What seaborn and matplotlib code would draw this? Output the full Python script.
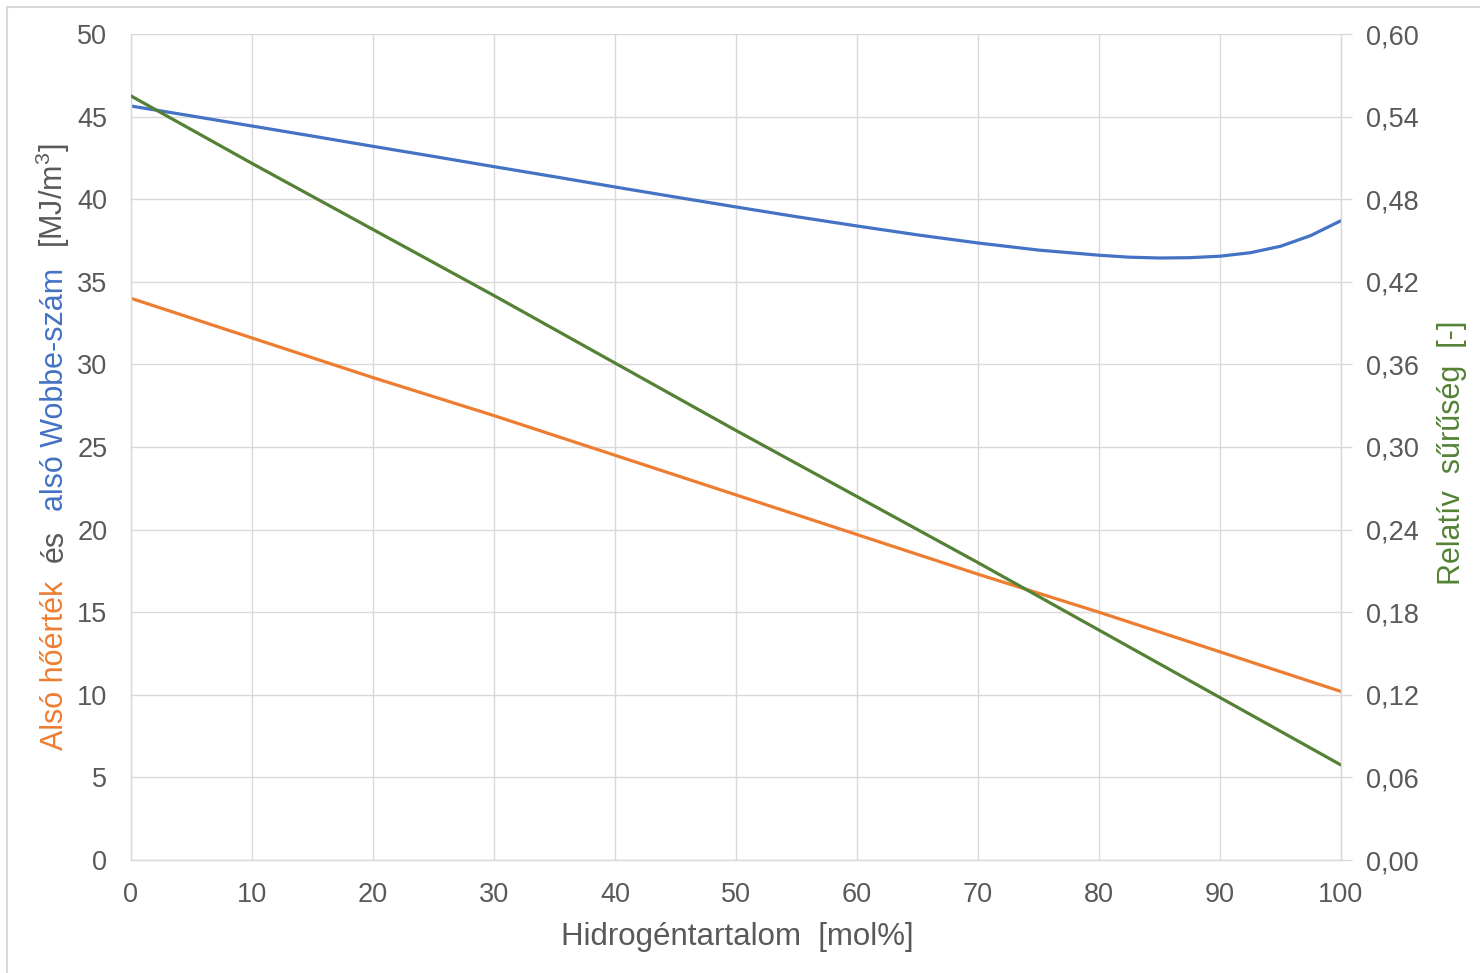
import matplotlib
matplotlib.use("Agg")
import matplotlib.pyplot as plt
import seaborn as sns
import pandas as pd
from matplotlib.ticker import FuncFormatter, MultipleLocator
from matplotlib.patches import Rectangle

# ---- data ----
h2 = [0, 10, 20, 30, 40, 50, 60, 70, 80, 90, 100]
lhv = [34.0, 31.6, 29.2, 26.9, 24.5, 22.1, 19.7, 17.3, 15.0, 12.6, 10.2]
rel_density = [0.555, 0.506, 0.458, 0.410, 0.361, 0.312, 0.264, 0.216, 0.167, 0.118, 0.069]

h2_wobbe = [0, 5, 10, 15, 20, 25, 30, 35, 40, 45, 50, 55, 60, 65, 70, 75, 80,
            82.5, 85, 87.5, 90, 92.5, 95, 97.5, 100]
wobbe = [45.64, 45.04, 44.43, 43.82, 43.20, 42.59, 41.97, 41.36, 40.74, 40.13,
         39.53, 38.94, 38.38, 37.84, 37.35, 36.92, 36.61, 36.49, 36.44, 36.46,
         36.55, 36.76, 37.15, 37.80, 38.70]

x_label = "Hidrogéntartalom  [mol%]"
y_right_label = "Relatív  sűrűség  [-]"
y_left_parts = [("Alsó hőérték", "#ED7D31"), ("és", "#595959"),
                ("alsó Wobbe-szám", "#4472C4"), ("[MJ/m$^3$]", "#595959")]

C_BLUE, C_ORANGE, C_GREEN = "#4472C4", "#ED7D31", "#548235"
C_TEXT, C_GRID = "#595959", "#D9D9D9"

sns.set_theme(style="white")
plt.rcParams['font.family'] = ['Liberation Sans', 'DejaVu Sans']
plt.rcParams['mathtext.fontset'] = 'custom'
plt.rcParams['mathtext.rm'] = 'Liberation Sans'
plt.rcParams['mathtext.it'] = 'Liberation Sans'

W, H = 1480, 973
fig = plt.figure(figsize=(W / 100, H / 100), dpi=100)
fig.patches.append(Rectangle((7 / W, -0.1), 1.2, 1 - 7 / H + 0.1, transform=fig.transFigure,
                             fill=False, edgecolor=C_GRID, linewidth=1.5, zorder=-10))

ax = fig.add_axes([131 / W, 1 - 860 / H, (1341 - 131) / W, (860 - 34) / H])
ax2 = ax.twinx()

df1 = pd.DataFrame({"x": h2, "lhv": lhv, "rd": rel_density})
df2 = pd.DataFrame({"x": h2_wobbe, "w": wobbe})

sns.lineplot(data=df1, x="x", y="lhv", ax=ax, color=C_ORANGE, linewidth=2.3)
sns.lineplot(data=df2, x="x", y="w", ax=ax, color=C_BLUE, linewidth=2.3)
sns.lineplot(data=df1, x="x", y="rd", ax=ax2, color=C_GREEN, linewidth=2.3)

ax.set_xlim(0, 100)
ax.set_ylim(0, 50)
ax2.set_ylim(0, 0.6)
ax.xaxis.set_major_locator(MultipleLocator(10))
ax.yaxis.set_major_locator(MultipleLocator(5))
ax2.yaxis.set_major_locator(MultipleLocator(0.06))
ax2.yaxis.set_major_formatter(FuncFormatter(lambda v, p: f"{v:.2f}".replace(".", ",")))

ax.grid(True, color=C_GRID, linewidth=1.0)
ax.set_axisbelow(True)
ax2.grid(False)
for s in ["top", "right"]:
    ax.spines[s].set_visible(False)
for s in ["left", "bottom"]:
    ax.spines[s].set_color(C_GRID)
    ax.spines[s].set_linewidth(1.0)
for s in ["top", "left", "bottom"]:
    ax2.spines[s].set_visible(False)
ax2.spines["right"].set_color(C_GRID)
ax2.spines["right"].set_linewidth(1.0)

FS = 19.5
ax.tick_params(axis="both", which="both", length=0, labelsize=FS, labelcolor=C_TEXT)
ax.tick_params(axis="y", pad=17)
ax.tick_params(axis="x", pad=16)
ax2.tick_params(axis="y", which="both", direction="out", length=8, width=1.0,
                color=C_GRID, labelsize=FS, labelcolor=C_TEXT, pad=10, right=True)
ax.set_xlabel("")
ax.set_ylabel("")
ax2.set_ylabel("")

fig.text(737 / W, 1 - 945 / H, x_label, ha="center", va="baseline",
         fontsize=22.5, color=C_TEXT)
fig.text(1460 / W, 1 - 585 / H, y_right_label, rotation=90, rotation_mode="anchor",
         ha="left", va="baseline", fontsize=22, color=C_GREEN)

# multi-coloured left label, stacked bottom to top
fig.canvas.draw()
renderer = fig.canvas.get_renderer()
y_px = 750.0
gap = 19.0
for txt, col in y_left_parts:
    t = fig.text(63 / W, 1 - y_px / H, txt, rotation=90, rotation_mode="anchor",
                 ha="left", va="baseline", fontsize=22, color=col)
    bb = t.get_window_extent(renderer=renderer)
    y_px -= bb.height + gap

fig.savefig("out.png", dpi=100)
